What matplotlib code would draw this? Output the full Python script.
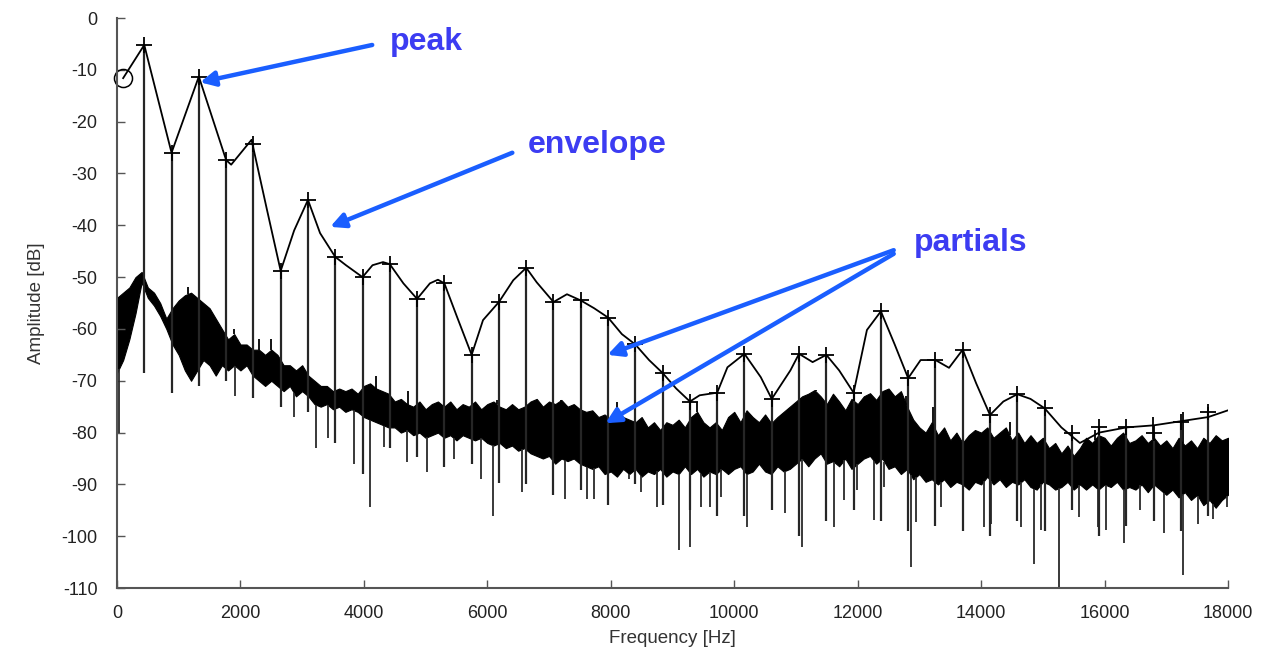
import matplotlib
matplotlib.use("Agg")
import matplotlib.pyplot as plt
import numpy as np

# ---------------- data ----------------
# noise floor band (every 100 Hz): upper and lower edge in dB
band_freq = np.arange(0, 18001, 100)
band_top = [
    -54, -53, -52, -50, -49, -52, -53, -55, -58, -56,
    -54.5, -53.5, -53, -54, -55, -56, -58, -60, -62, -61,
    -63, -63, -64, -64, -65, -64, -65, -67, -67, -68,
    -67, -69, -70, -71, -71, -72, -71.5, -72, -71.5, -72.5,
    -71, -70.5, -71.5, -72, -72.5, -74, -73.5, -74.5, -75, -74,
    -75.5, -74.5, -74, -75, -74, -75.5, -74.5, -75, -74, -75.5,
    -74.5, -74, -75, -75.5, -74.5, -75.5, -75, -74, -73.5, -75,
    -74, -74.5, -73.7, -75, -74.5, -75.5, -76, -75.7, -77, -76.5,
    -77.5, -76, -77, -77.5, -78, -77, -79, -78, -79.5, -78,
    -78.5, -77.5, -79, -77, -76, -78, -79, -78, -79.5, -77,
    -76, -78, -75.7, -77, -78, -76.5, -78.2, -77, -76, -75,
    -74, -73, -72.5, -71.8, -73, -74.5, -72.5, -74, -75.7, -73.5,
    -74.5, -73, -72.4, -73.7, -72, -71.5, -73, -72, -75, -77.5,
    -79, -80, -78, -80.5, -79, -81.5, -80, -82, -80.5, -79.5,
    -80, -79, -81, -80, -79, -81.5, -80, -82, -80.5, -82,
    -81, -83, -82, -84, -82.5, -84.5, -83, -81, -82, -80.5,
    -81, -82.5, -81, -80, -82, -81.5, -80.5, -82, -81, -82.5,
    -81.5, -83, -81, -82.5, -81.5, -83, -81, -82, -80.5, -81.5,
    -81]
band_bottom = [
    -68.5, -66, -62, -57, -51, -54, -55.5, -57.5, -60, -63,
    -65, -68, -70, -68, -66, -67, -69, -67, -68, -67,
    -68, -67, -69, -70, -71, -70, -71, -72, -71, -73,
    -72, -73, -74.5, -75, -74.5, -75.5, -75, -76, -75.5, -76,
    -77, -77.5, -78, -78.5, -79, -79, -80, -79.5, -80.5, -80,
    -81, -80.5, -80, -81, -80.5, -81.5, -80.5, -81, -81.5, -81,
    -82, -82.5, -82, -83, -82.5, -83.5, -83, -84, -84.5, -85,
    -84.5, -86, -85, -85.5, -85, -86, -86.5, -87, -86.5, -88,
    -87.5, -88.5, -87, -88, -87, -88.5, -87.5, -88, -87, -88.5,
    -87.5, -88, -86.5, -88, -87, -88.5, -87.5, -88, -87, -88,
    -87, -86.5, -88, -87.5, -86, -87.5, -88, -86.5, -87.5, -87,
    -86, -85, -86.5, -85, -84, -86, -85.5, -86.5, -85, -87,
    -86, -85, -84.5, -86, -85, -87, -86.5, -88, -87, -89,
    -88, -89.5, -89, -90, -89, -90.5, -89.5, -90, -91, -89.5,
    -90, -88.5, -90, -89, -90.5, -89.5, -90, -89, -90.5, -91,
    -89.5, -90, -91, -90.5, -89.5, -91, -90, -91, -90, -91,
    -90, -90.5, -89.5, -91, -90.5, -91, -90, -91.5, -90, -91,
    -92, -91, -92.5, -91.5, -93, -92, -94, -93, -94.5, -93,
    -92]

# deep downward spikes of the noise floor
dip_freq = [30, 1920, 2870, 3230, 3420, 3840, 4100, 4330, 4700, 5030, 5460,
            5900, 6090, 6560, 7265, 7620, 7725, 8300, 8490, 8750,
            9100, 9290, 9460, 9610, 9790, 10210, 10830, 11100, 11615, 11780,
            11995, 12265, 12430, 12860, 12940, 13346, 14050, 14157, 14640,
            14860, 14970, 15265, 15590, 15890, 16020, 16320, 16580, 16970,
            17265, 17510, 17750, 17980]
dip_db = [-80, -73, -77, -83, -81, -86, -94.4, -82.8, -85.7, -87.6, -85,
          -89, -96, -91.5, -92.8, -92.8, -92.8, -89, -91.5, -94.4,
          -102.7, -102.1, -94.4, -94.4, -92.5, -98.2, -95.6, -102.1, -98.2, -93,
          -91, -96.9, -90.5, -106, -97.3, -94.4, -98.2, -97.6, -98.2,
          -105.3, -98.8, -109.8, -96.3, -98.2, -98.8, -101.4, -95, -99.4,
          -107.5, -97.6, -96.6, -94.4]

# upward spikes of the noise floor
up_freq = [1150, 1900, 2300, 2500, 4200, 4720, 6150, 7200, 8100, 9400,
           10200, 11320, 11480, 12540, 12780, 13220, 14460, 15840, 16780,
           17270, 17680]
up_db = [-52, -60, -62, -62, -69, -72, -73.7, -74, -74, -74,
         -75.7, -71.8, -75, -72.4, -73, -75, -78, -79.5, -77,
         -76, -75]

# partials (harmonic peaks, "+")
partial_freq = [442, 884, 1326, 1768, 2210, 2652, 3094, 3536, 3978, 4420,
                4862, 5304, 5746, 6188, 6630, 7072, 7514, 7956, 8398, 8840,
                9282, 9724, 10166, 10608, 11050, 11492, 11934, 12376, 12818, 13260,
                13702, 14144, 14586, 15028, 15470, 15912, 16354, 16796, 17238, 17680]
partial_peak = [-5.2, -26, -11.3, -27.4, -24.3, -48.8, -35.1, -46.1, -50, -47.5,
                -54.2, -51.2, -65, -54.8, -48.2, -54.8, -54.5, -57.8, -63, -68.5,
                -74, -72.3, -64.8, -73.5, -64.8, -65, -72.3, -56.6, -69.5, -66,
                -64, -76.6, -72.6, -75.3, -80, -79, -79, -80, -78, -76]
partial_floor = [-68.5, -72.4, -71, -70, -73.4, -75, -76, -82, -88, -83,
                 -84.7, -86.7, -86, -89.8, -90, -92, -91, -94, -90, -94,
                 -95, -96, -96, -95, -100, -97, -95, -97, -99, -98,
                 -99, -100, -97, -99, -95, -100, -98, -97, -99, -96]

# spectral envelope
env_freq = [100, 442, 884, 1326, 1768, 1850, 2180, 2430, 2652, 2870,
            3094, 3290, 3536, 3710, 3978, 4140, 4310, 4420, 4640, 4862,
            5070, 5200, 5304, 5510, 5746, 5930, 6188, 6420, 6630, 6800,
            7072, 7290, 7514, 7730, 7956, 8180, 8398, 8620, 8840, 9060,
            9282, 9440, 9724, 9890, 10166, 10430, 10608, 10910, 11050, 11270,
            11492, 11700, 11934, 12150, 12376, 12600, 12818, 13020, 13260, 13480,
            13702, 13920, 14144, 14360, 14586, 14800, 15028, 15300, 15600, 15912,
            16354, 16796, 17238, 17680, 18000]
env_db = [-11.6, -5.2, -26, -11.3, -27.4, -28.3, -23.5, -37, -48.8, -41,
          -35.1, -41.5, -46.1, -47.7, -50, -47.7, -47.1, -47.5, -51.2, -54.2,
          -51.2, -50.5, -51.2, -57.7, -65, -58.3, -54.8, -50.6, -48.2, -51,
          -54.8, -53.3, -54.5, -56, -57.8, -61, -63, -66, -68.5, -71.5,
          -74, -72.8, -72.3, -67.4, -64.8, -69.3, -73.5, -68, -64.8, -66.4,
          -65, -68, -72.3, -60.2, -56.6, -63, -69.5, -66, -66, -67.5,
          -64, -70.5, -76.6, -74, -72.6, -73.5, -75.3, -79, -82, -80,
          -79, -78.6, -77.8, -77, -75.7]

circle_freq = [100]
circle_db = [-11.6]

x_ticks = list(range(0, 18001, 2000))
y_ticks = list(range(-110, 1, 10))

# ---------------- figure ----------------
plt.rcParams['font.family'] = ['Liberation Sans', 'DejaVu Sans']
plt.rcParams['axes.unicode_minus'] = False
fig = plt.figure(figsize=(12.66, 6.60), dpi=100)
ax = fig.add_axes([0.0924, 0.109, 0.8776, 0.8637])

ax.fill_between(band_freq, band_bottom, band_top, color='black', lw=0.8)
band_bottom_at_dip = np.interp(dip_freq, band_freq, band_bottom)
ax.vlines(dip_freq, dip_db, band_bottom_at_dip, color='#2a2a2a', lw=1.3)
band_top_at_up = np.interp(up_freq, band_freq, band_top)
ax.vlines(up_freq, band_top_at_up, up_db, color='black', lw=1.3)

# partial spikes
ax.vlines(partial_freq, partial_floor, partial_peak, color='#262626', lw=1.6)

# envelope
ax.plot(env_freq, env_db, color='black', lw=1.3)
ax.plot(partial_freq, partial_peak, ls='none', marker='+', ms=12, mew=1.3,
        color='black')
ax.plot(circle_freq, circle_db, ls='none', marker='o', ms=13, mfc='none',
        mec='black', mew=1.1, clip_on=False)

ax.set_xlim(0, 18000)
ax.set_ylim(-110, 0)
ax.set_xticks(x_ticks)
ax.set_yticks(y_ticks)
ax.tick_params(direction='in', length=6, width=1, colors='#555555',
               labelcolor='#222222', labelsize=13)
ax.tick_params(axis='y', pad=14)
ax.tick_params(axis='x', pad=12)
for s in ['top', 'right']:
    ax.spines[s].set_visible(False)
for s in ['left', 'bottom']:
    ax.spines[s].set_color('#555555')
    ax.spines[s].set_linewidth(1.5)
ax.set_xlabel('Frequency [Hz]', fontsize=13.5, color='#333333', labelpad=6)
ax.set_ylabel('Amplitude [dB]', fontsize=13.5, color='#333333', labelpad=12)

# annotations
txt_c = '#3c3cf2'
arr_c = '#1a5eff'
ap = dict(arrowstyle='-|>', color=arr_c, lw=3.2, mutation_scale=22,
          shrinkA=0, shrinkB=0)
ax.text(4427, -4.6, 'peak', color=txt_c, fontsize=23, fontweight='bold',
        ha='left', va='center')
ax.annotate('', xy=(1346, -12.4), xytext=(4135, -5.2), arrowprops=ap)
ax.text(6649, -24.5, 'envelope', color=txt_c, fontsize=23, fontweight='bold',
        ha='left', va='center')
ax.annotate('', xy=(3454, -40.3), xytext=(6405, -26), arrowprops=ap)
ax.text(12908, -43.4, 'partials', color=txt_c, fontsize=23, fontweight='bold',
        ha='left', va='center')
ax.annotate('', xy=(7946, -65), xytext=(12584, -44.8), arrowprops=ap)
ax.annotate('', xy=(7913, -78.2), xytext=(12584, -45.5), arrowprops=ap)

fig.savefig('out.png', dpi=100)
